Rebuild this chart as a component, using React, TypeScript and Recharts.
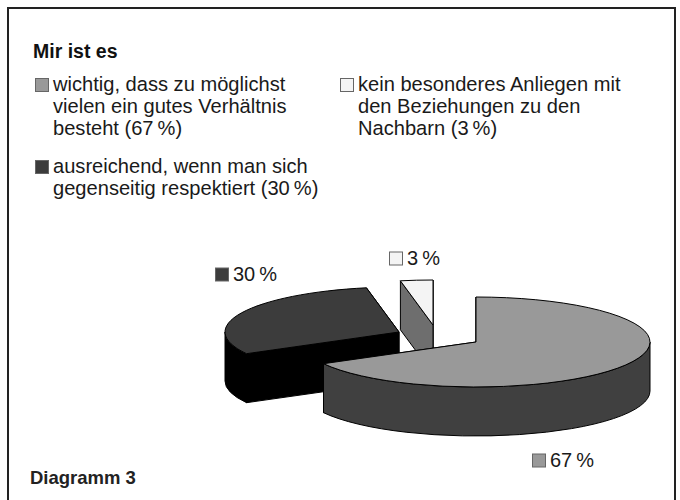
import { PieChart, Pie, Legend } from 'recharts'

// values, drawn in this order so the big slice ends up on top
const shares = [3, 30, 67]
const sliceNames = ['kein Anliegen', 'ausreichend', 'wichtig']
const sliceLabels = ['3\u2009%', '30\u2009%', '67\u2009%']

const legendTitle = 'Mir ist es'
const legendLines = [
  ['wichtig, dass zu möglichst', 'vielen ein gutes Verhältnis', 'besteht (67\u2009%)'],
  ['ausreichend, wenn man sich', 'gegenseitig respektiert (30\u2009%)'],
  ['kein besonderes Anliegen mit', 'den Beziehungen zu den', 'Nachbarn (3\u2009%)'],
]
const footer = 'Diagramm 3'

const data = shares.map((value, i) => ({ name: sliceNames[i], value }))

// per slice styles, same order as shares
const topFill = ['#f4f4f4', '#3c3c3c', '#999999']
const sideFill = ['#6e6e6e', '#000000', '#404040']
// exploded pieces: shift from the pie centre
const shift = [[-43, -17], [-77, -10], [0, 0]]
// where the slice labels sit (square left edge, text baseline)
const labelPos = [[389, 265], [215, 281], [532, 467]]
// legend order is 67, 30, 3
const legendOrder = [2, 1, 0]
const legendPos = [[35, 91], [35, 173], [340, 91]]

const CX = 476
const CY = 342
const RX = 174
const SQUASH = 45 / 174
const DEPTH = 49
const STROKE = '#000'
const FONT = '"Liberation Sans", Arial, sans-serif'

const Slice3D = (props: any) => {
  const { outerRadius, startAngle, endAngle, index } = props
  const [dx, dy] = shift[index]
  const cx = CX + dx
  const cy = CY + dy
  const ry = outerRadius * SQUASH
  const px = (deg: number) => cx + outerRadius * Math.cos((deg * Math.PI) / 180)
  const py = (deg: number) => cy - ry * Math.sin((deg * Math.PI) / 180)
  const a0 = Math.min(startAngle, endAngle)
  const a1 = Math.max(startAngle, endAngle)
  const large = a1 - a0 > 180 ? 1 : 0

  // rim: the part of the arc that faces the viewer (lower half of the ellipse)
  const rims: string[] = []
  for (const [lo, hi] of [[180, 360], [540, 720]]) {
    const s = Math.max(a0, lo)
    const e = Math.min(a1, hi)
    if (e > s) {
      rims.push(
        `M${px(s)},${py(s)} A${outerRadius},${ry} 0 0 0 ${px(e)},${py(e)} ` +
        `L${px(e)},${py(e) + DEPTH} A${outerRadius},${ry} 0 0 1 ${px(s)},${py(s) + DEPTH} Z`
      )
    }
  }
  // cut faces, both radial edges extruded downward
  const face = (deg: number) =>
    `M${cx},${cy} L${px(deg)},${py(deg)} L${px(deg)},${py(deg) + DEPTH} L${cx},${cy + DEPTH} Z`

  return (
    <g>
      <path d={face(a0)} fill={sideFill[index]} stroke={STROKE} strokeWidth={1} strokeLinejoin="round" />
      <path d={face(a1)} fill={sideFill[index]} stroke={STROKE} strokeWidth={1} strokeLinejoin="round" />
      {rims.map((d, i) => (
        <path key={i} d={d} fill={sideFill[index]} stroke={STROKE} strokeWidth={1} strokeLinejoin="round" />
      ))}
      <path
        d={`M${cx},${cy} L${px(a0)},${py(a0)} A${outerRadius},${ry} 0 ${large} 0 ${px(a1)},${py(a1)} Z`}
        fill={topFill[index]}
        stroke={STROKE}
        strokeWidth={1}
        strokeLinejoin="round"
      />
    </g>
  )
}

const SliceLabel = (props: any) => {
  const i = props.index
  const [x, y] = labelPos[i]
  return (
    <g>
      <rect x={x + 0.5} y={y - 13} width={13} height={13} fill={topFill[i]} stroke="#666" strokeWidth={1} />
      <text x={x + 18} y={y} fontSize={20} fontFamily={FONT} fill="#1a1a1a">
        {sliceLabels[i]}
      </text>
    </g>
  )
}

const TextLegend = () => (
  <svg width={680} height={500} style={{ position: 'absolute', left: 0, top: 0 }}>
    {/* frame runs off the bottom of the picture */}
    <path d="M8,500 L8,8 L675,8 L675,500" fill="none" stroke="#222" strokeWidth={2} />
    <text x={33} y={58} fontSize={19.5} fontWeight="bold" fontFamily={FONT} fill="#111">
      {legendTitle}
    </text>
    {legendLines.map((lines, i) => {
      const [x, y] = legendPos[i]
      return (
        <g key={i}>
          <rect x={x + 0.5} y={y - 12.5} width={13} height={13} fill={topFill[legendOrder[i]]} stroke="#666" strokeWidth={1} />
          {lines.map((line, j) => (
            <text key={j} x={x + 18} y={y + j * 22} fontSize={20.1} fontFamily={FONT} fill="#1a1a1a">
              {line}
            </text>
          ))}
        </g>
      )
    })}
    <text x={30} y={484} fontSize={18.5} fontWeight="bold" fontFamily={FONT} fill="#222">
      {footer}
    </text>
  </svg>
)

export default function App() {
  return (
    <div style={{ position: 'absolute', left: 0, top: 0, width: 680, height: 500, background: '#fff' }}>
      <PieChart width={680} height={500} margin={{ top: 0, right: 0, bottom: 0, left: 0 }}>
        <Legend content={<TextLegend />} wrapperStyle={{ left: 0, top: 0, width: 680, height: 500 }} />
        <Pie
          data={data}
          dataKey="value"
          cx={CX}
          cy={CY}
          innerRadius={0}
          outerRadius={RX}
          startAngle={90}
          endAngle={450}
          stroke="none"
          shape={Slice3D}
          label={SliceLabel}
          labelLine={false}
          isAnimationActive={false}
        />
      </PieChart>
    </div>
  )
}
